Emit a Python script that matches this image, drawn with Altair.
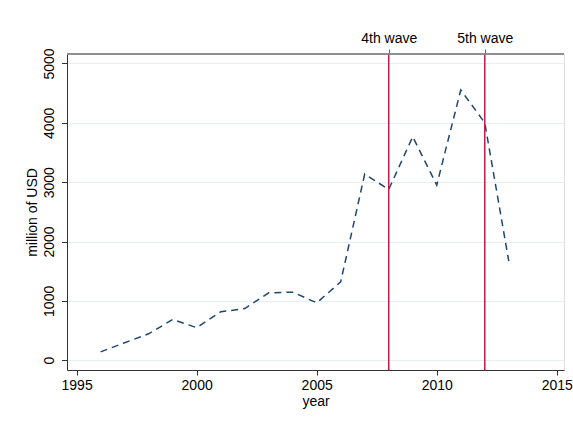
import altair as alt
import pandas as pd

years = [1996, 1997, 1998, 1999, 2000, 2001, 2002, 2003, 2004, 2005,
         2006, 2007, 2008, 2009, 2010, 2011, 2012, 2013]
values = [140, 295, 445, 686, 548, 815, 870, 1135, 1147, 967,
          1321, 3137, 2878, 3766, 2951, 4553, 4002, 1670]

wave_years = [2008, 2012]
wave_labels = ["4th wave", "5th wave"]

x_ticks = [1995, 2000, 2005, 2010, 2015]
y_ticks = [0, 1000, 2000, 3000, 4000, 5000]

df = pd.DataFrame({"year": years, "value": values})
waves = pd.DataFrame({"year": wave_years, "label": wave_labels})

FONT = "Liberation Sans"
FS = 14
xscale = alt.Scale(domain=[1994.6, 2015.3], nice=False, zero=False)
yscale = alt.Scale(domain=[-165, 5160], nice=False, zero=False)

line = alt.Chart(df).mark_line(
    color="#1f4770", strokeWidth=1.5, strokeDash=[7, 5]
).encode(
    x=alt.X("year:Q", scale=xscale,
            axis=alt.Axis(values=x_ticks, format="d", title="year", grid=False,
                          orient="bottom", domainColor="#333333", tickColor="#333333",
                          tickSize=5, labelFontSize=FS, titleFontSize=FS,
                          labelFont=FONT, titleFont=FONT, labelColor="#000000",
                          titleColor="#000000", titleFontWeight="normal",
                          labelPadding=3, titlePadding=2)),
    y=alt.Y("value:Q", scale=yscale,
            axis=alt.Axis(values=y_ticks, format="d", title="million of USD",
                          grid=True, gridColor="#e8eff1", gridWidth=1.2,
                          domainColor="#333333", tickColor="#333333", tickSize=5.5,
                          labelAngle=270, labelAlign="center", labelBaseline="bottom",
                          labelFontSize=FS, titleFontSize=FS, labelFont=FONT,
                          titleFont=FONT, labelColor="#000000", titleColor="#000000",
                          titleFontWeight="normal", labelPadding=5, titlePadding=3)),
)

rules = alt.Chart(waves).mark_rule(color="#c8174a", strokeWidth=1.5).encode(
    x=alt.X("year:Q", scale=xscale,
            axis=alt.Axis(orient="top", values=wave_years, title=None, grid=False,
                          labelExpr="datum.value == 2008 ? '4th wave' : '5th wave'",
                          domain=False, tickColor="#666666",
                          tickSize=5, labelFontSize=FS, labelFont=FONT,
                          labelColor="#000000", labelPadding=4)),
)

top_line = alt.Chart(waves).mark_rule(color="#888888", strokeWidth=1.5).encode(
    x=alt.value(0), x2=alt.value(497), y=alt.value(0)
)

chart = alt.layer(line, rules, top_line).resolve_axis(x="independent").properties(
    width=497, height=316,
    autosize=alt.AutoSizeParams(type="none"),
    padding={"left": 67, "top": 54, "right": 9, "bottom": 51},
).configure_view(stroke=None).configure(background="#ffffff")

chart.save("out.html", embed_options={"renderer": "svg", "actions": False})
